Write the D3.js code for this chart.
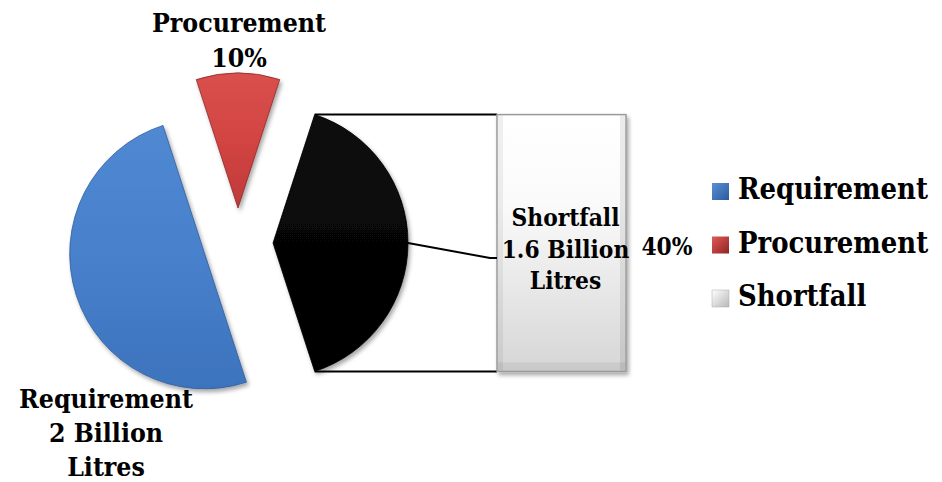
<!DOCTYPE html>
<html><head><meta charset="utf-8">
<script src="https://cdn.jsdelivr.net/npm/d3@7"></script>
<style>
body{margin:0;background:#fff}
text{font-family:"DejaVu Serif Condensed","DejaVu Serif",serif;font-weight:bold;fill:#000}
</style>
</head><body>
<svg id="c" width="942" height="482"></svg>
<script>
// ---- data ----
const categories = ["Requirement", "Procurement", "Shortfall"];
const shares = [50, 10, 40];
const pieLabelLines = [["Requirement", "2 Billion", "Litres"], ["Procurement", "10%"], []];
const barCategories = ["Shortfall"];
const barValues = [40];
const barLabelLines = ["Shortfall", "1.6 Billion", "Litres"];
const barPercentLabel = "40%";

// ---- layout ----
const svg = d3.select("#c");
const cx = 238, cy = 243, R = 135, explode = 35;
const startDeg = 162;
const toRad = d => d * Math.PI / 180;

const defs = svg.append("defs");
const sh = defs.append("filter").attr("id", "shadow").attr("x", "-20%").attr("y", "-20%").attr("width", "140%").attr("height", "140%");
sh.append("feDropShadow").attr("dx", 2).attr("dy", 3).attr("stdDeviation", 2.2).attr("flood-color", "#000").attr("flood-opacity", 0.35);

function lin(id, stops, x2, y2) {
  const g = defs.append("linearGradient").attr("id", id).attr("x1", 0).attr("y1", 0).attr("x2", x2 || 0).attr("y2", y2 === undefined ? 1 : y2);
  stops.forEach(s => g.append("stop").attr("offset", s[0]).attr("stop-color", s[1]));
}
lin("gBlue", [[0, "#5089d2"], [0.5, "#4880cb"], [1, "#3d73bd"]]);
lin("gRed", [[0, "#d9504c"], [0.5, "#d24442"], [1, "#bf3a3a"]]);
lin("gBlack", [[0, "#0c0c0c"], [1, "#000"]]);
lin("gBar", [[0, "#ffffff"], [0.35, "#fafafa"], [1, "#d6d6d6"]]);
lin("lBlue", [[0, "#5a90d6"], [1, "#2a5a9c"]], 1, 1);
lin("lRed", [[0, "#e05a56"], [1, "#8e2424"]], 1, 1);
lin("lShort", [[0, "#ffffff"], [1, "#b8b8b8"]], 1, 1);

const fills = { Requirement: "url(#gBlue)", Procurement: "url(#gRed)", Shortfall: "url(#gBlack)" };
const strokes = { Requirement: "#2f5d9a", Procurement: "#8a2a2a", Shortfall: "#000" };
const legendFills = { Requirement: "url(#lBlue)", Procurement: "url(#lRed)", Shortfall: "url(#lShort)" };

// font fitting helper
const probe = svg.append("text").attr("font-size", 100).attr("x", -1000).attr("y", -1000);
function widthAt100(s) { probe.text(s); return probe.node().getComputedTextLength(); }
const legendSize = 190 / widthAt100("Requirement") * 100;
const pieLabelSize = 174 / widthAt100("Requirement") * 100;
const barLabelSize = 108 / widthAt100("Shortfall") * 100;
probe.remove();

// ---- pie ----
const pie = d3.pie().sort(null).value(d => d.v)
  .startAngle(toRad(startDeg)).endAngle(toRad(startDeg + 360));
const arcs = pie(categories.map((c, i) => ({ c, v: shares[i], lines: pieLabelLines[i] })));
const arc = d3.arc().innerRadius(0).outerRadius(R);

const centers = arcs.map(a => {
  const m = (a.startAngle + a.endAngle) / 2;
  return [cx + explode * Math.sin(m), cy - explode * Math.cos(m)];
});

const gp = svg.append("g");
arcs.forEach((a, i) => {
  gp.append("path")
    .attr("transform", `translate(${centers[i]})`)
    .attr("d", arc(a))
    .attr("fill", fills[a.data.c])
    .attr("stroke", strokes[a.data.c])
    .attr("stroke-width", 0.8)
    .attr("filter", "url(#shadow)");
});

// ---- bar of pie ----
const sIdx = categories.indexOf("Shortfall");
const sArc = arcs[sIdx], sc = centers[sIdx];
const topPt = [sc[0] + R * Math.sin(sArc.startAngle), sc[1] - R * Math.cos(sArc.startAngle)];
const botPt = [sc[0] + R * Math.sin(sArc.endAngle), sc[1] - R * Math.cos(sArc.endAngle)];
const barX0 = 497, barX1 = 626;
const yBar = d3.scaleLinear().domain([0, d3.sum(barValues)]).range([botPt[1], topPt[1]]);

svg.append("line").attr("x1", topPt[0]).attr("y1", topPt[1]).attr("x2", barX0).attr("y2", yBar(barValues[0]))
  .attr("stroke", "#000").attr("stroke-width", 2);
svg.append("line").attr("x1", botPt[0]).attr("y1", botPt[1]).attr("x2", barX0).attr("y2", yBar(0))
  .attr("stroke", "#000").attr("stroke-width", 2);

let acc = 0;
barValues.forEach((v) => {
  const y0 = yBar(acc), y1 = yBar(acc + v);
  acc += v;
  svg.append("rect").attr("x", barX0).attr("y", y1).attr("width", barX1 - barX0).attr("height", y0 - y1)
    .attr("fill", "url(#gBar)").attr("stroke", "#9a9a9a").attr("stroke-width", 1.5)
    .attr("filter", "url(#shadow)");
  svg.append("rect").attr("x", barX0 + 1).attr("y", y1 + 1).attr("width", 5).attr("height", y0 - y1 - 2)
    .attr("fill", "#000").attr("opacity", 0.06);
  svg.append("rect").attr("x", barX1 - 6).attr("y", y1 + 1).attr("width", 5).attr("height", y0 - y1 - 2)
    .attr("fill", "#000").attr("opacity", 0.08);
  svg.append("rect").attr("x", barX0 + 1).attr("y", y0 - 9).attr("width", barX1 - barX0 - 2).attr("height", 8)
    .attr("fill", "#000").attr("opacity", 0.06);
});

// leader line
const leadStart = [sc[0] + R, sc[1]];
svg.append("polyline")
  .attr("points", [leadStart, [490, 258], [barX0, 258]].map(p => p.join(",")).join(" "))
  .attr("fill", "none").attr("stroke", "#000").attr("stroke-width", 2);

// bar label
const barMidX = (barX0 + barX1) / 2 + 4;
const bl = svg.append("text").attr("text-anchor", "middle").attr("font-size", barLabelSize);
barLabelLines.forEach((s, i) => bl.append("tspan").attr("x", barMidX).attr("y", 226 + i * 31.5).text(s));
svg.append("text").attr("x", 667).attr("y", 255).attr("text-anchor", "middle")
  .attr("font-size", barLabelSize).text(barPercentLabel);

// pie labels
const pieLabelPos = { Requirement: [106, 408, 34], Procurement: [239, 32, 35] };
arcs.forEach(a => {
  const p = pieLabelPos[a.data.c];
  if (!p || !a.data.lines.length) return;
  const t = svg.append("text").attr("text-anchor", "middle").attr("font-size", pieLabelSize);
  a.data.lines.forEach((s, i) => t.append("tspan").attr("x", p[0]).attr("y", p[1] + i * p[2]).text(s));
});

// ---- legend ----
const lg = svg.append("g");
categories.forEach((c, i) => {
  const by = 199 + i * 53.5;
  lg.append("rect").attr("x", 712).attr("y", by - 16).attr("width", 17).attr("height", 17)
    .attr("fill", legendFills[c]).attr("stroke", c === "Shortfall" ? "#aaa" : "none").attr("stroke-width", 0.5);
  lg.append("text").attr("x", 738).attr("y", by).attr("font-size", legendSize).text(c);
});
</script>
</body></html>
